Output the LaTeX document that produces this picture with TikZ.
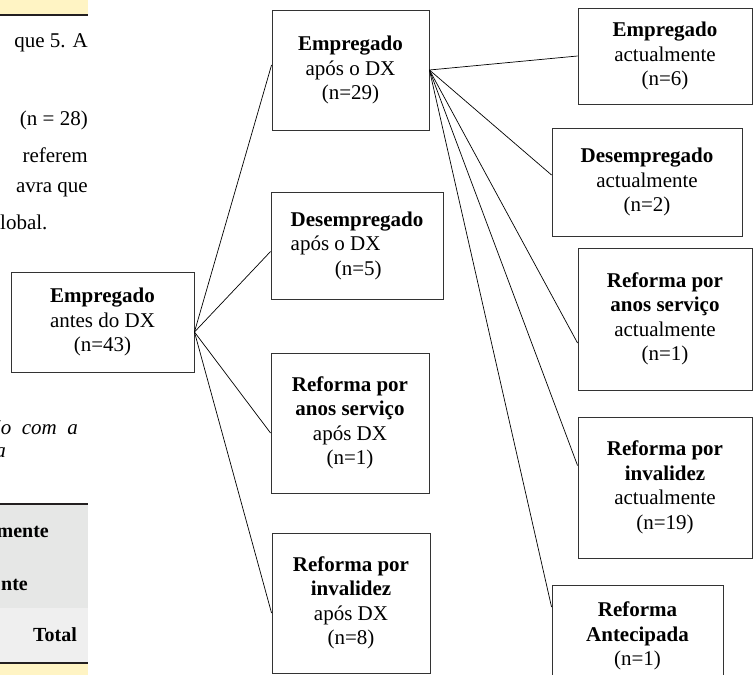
\documentclass[tikz,border=0pt]{standalone}
\usepackage{fontspec}
\setmainfont{Liberation Serif}
\definecolor{amarelo}{HTML}{FFF4C4}
\definecolor{cinza}{HTML}{E6E7E6}
\definecolor{cinzaclaro}{HTML}{EFEFEF}
\definecolor{filete}{HTML}{231F20}
\tikzset{
  box/.style={draw=black!80, line width=0.9pt, align=center, inner sep=0pt,
    font=\fontsize{21}{24.5}\selectfont},
  pagetext/.style={inner sep=0pt, font=\fontsize{21}{24.5}\selectfont},
  link/.style={line width=0.7pt}
}
\begin{document}
\begin{tikzpicture}[x=1pt, y=-1pt]
  \useasboundingbox (0,0) rectangle (753,675);
  \clip (0,0) rectangle (753,675);
  \fill[amarelo] (0,0) rectangle (88,14);
  \draw[filete, line width=2pt] (0,15) -- (88,15);
  \node[pagetext, anchor=east] (p1) at (88,43) {que 5. A};
  \node[pagetext, anchor=east] (p2) at (88,120) {(n = 28)};
  \node[pagetext, anchor=east] (p3) at (88,155) {referem};
  \node[pagetext, anchor=east] (p4) at (88,190) {avra que};
  \node[pagetext, anchor=west] (p5) at (0,222) {lobal.};
  \node[pagetext, anchor=east, font=\fontsize{21}{24.5}\selectfont\itshape] (p6) at (78,428) {ão \ com \ a};
  \node[pagetext, anchor=east, font=\fontsize{21}{24.5}\selectfont\itshape] (p7) at (6,453) {a};
  \fill[cinza] (0,505) rectangle (88,608);
  \fill[cinzaclaro] (0,608) rectangle (88,662);
  \fill[amarelo] (0,664) rectangle (88,675);
  \draw[filete, line width=2pt] (0,504) -- (88,504);
  \draw[filete, line width=2pt] (0,663) -- (88,663);
  \node[pagetext, anchor=east, font=\fontsize{20}{24}\selectfont\bfseries] (t1) at (49,532) {mente};
  \node[pagetext, anchor=east, font=\fontsize{20}{24}\selectfont\bfseries] (t2) at (28,585) {nte};
  \node[pagetext, anchor=east, font=\fontsize{20}{24}\selectfont\bfseries] (t3) at (77,635) {Total};

  \node[box, minimum width=183pt, minimum height=100pt] (antes) at (102.5,322) {\textbf{Empregado}\\antes do DX\\(n=43)};

  \node[box, minimum width=157pt, minimum height=120pt] (aposEmp) at (350.5,70) {\textbf{Empregado}\\após o DX\\(n=29)};
  \node[box, minimum width=172pt, minimum height=107pt, align=left] (aposDes) at (357,245.5) {\textbf{Desempregado}\\após o DX\\\hspace*{2.1em}(n=5)};
  \node[box, minimum width=158pt, minimum height=140pt] (aposRef) at (350,423) {\textbf{Reforma por}\\\textbf{anos serviço}\\após DX\\(n=1)};
  \node[box, minimum width=158pt, minimum height=140pt] (aposInv) at (351,603) {\textbf{Reforma por}\\\textbf{invalidez}\\após DX\\(n=8)};

  \node[box, minimum width=174pt, minimum height=96pt] (actEmp) at (665,56) {\textbf{Empregado}\\actualmente\\(n=6)};
  \node[box, minimum width=190pt, minimum height=108pt] (actDes) at (647,182) {\textbf{Desempregado}\\actualmente\\(n=2)};
  \node[box, minimum width=174pt, minimum height=142pt] (actRef) at (665,319) {\textbf{Reforma por}\\\textbf{anos serviço}\\actualmente\\(n=1)};
  \node[box, minimum width=174pt, minimum height=141pt] (actInv) at (665,487.5) {\textbf{Reforma por}\\\textbf{invalidez}\\actualmente\\(n=19)};
  \node[box, minimum width=171pt, minimum height=102pt] (actAnt) at (637.5,636) {\textbf{Reforma}\\\textbf{Antecipada}\\(n=1)};

  \draw[link] ([yshift=-10pt]antes.east) -- ([yshift=5pt]aposEmp.west);
  \draw[link] ([yshift=-10pt]antes.east) -- ([yshift=-6pt]aposDes.west);
  \draw[link] ([yshift=-10pt]antes.east) -- ([yshift=-10pt]aposRef.west);
  \draw[link] ([yshift=-10pt]antes.east) -- ([yshift=-10pt]aposInv.west);

  \draw[link] (aposEmp.east) -- (actEmp.west);
  \draw[link] (aposEmp.east) -- ([yshift=7pt]actDes.west);
  \draw[link] (aposEmp.east) -- ([yshift=-24pt]actRef.west);
  \draw[link] (aposEmp.east) -- ([yshift=22pt]actInv.west);
  \draw[link] (aposEmp.east) -- ([yshift=29pt]actAnt.west);
\end{tikzpicture}
\end{document}
